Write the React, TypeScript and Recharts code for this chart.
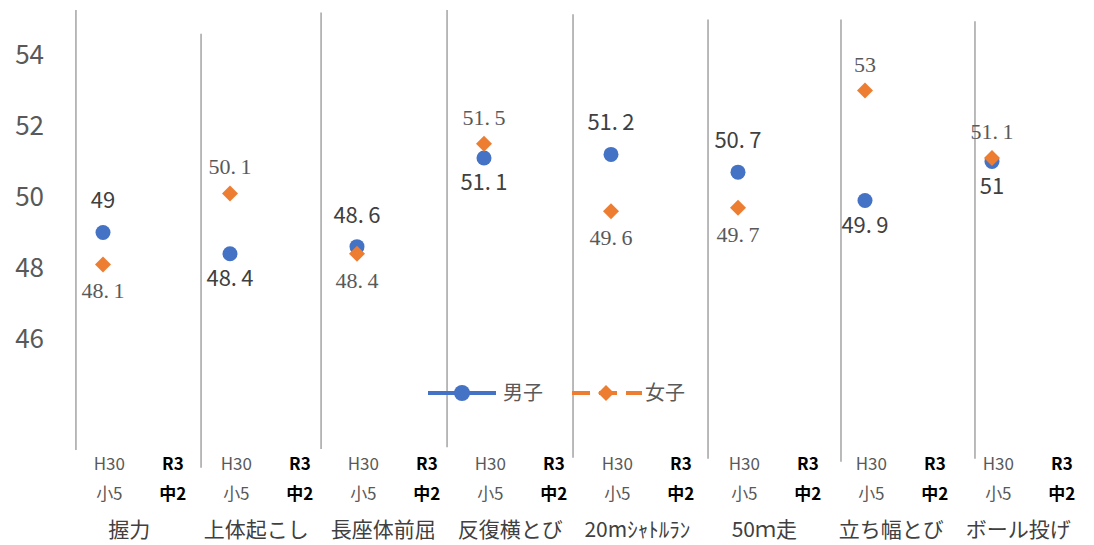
import { ScatterChart, Scatter, XAxis, YAxis, ReferenceLine, Legend } from 'recharts'

const categories = ['握力', '上体起こし', '長座体前屈', '反復横とび', '20mｼｬﾄﾙﾗﾝ', '50ｍ走', '立ち幅とび', 'ボール投げ']
const boys = [49, 48.4, 48.6, 51.1, 51.2, 50.7, 49.9, 51]
const girls = [48.1, 50.1, 48.4, 51.5, 49.6, 49.7, 53, 51.1]
const seriesNames = ['男子', '女子']
const periodLabels = [['H30', '小5'], ['R3', '中2']]
const yTicks = [46, 48, 50, 52, 54]

// which side of the marker each value label sits on
const boysLabelSide = ['top', 'bottom', 'top', 'bottom', 'top', 'top', 'bottom', 'bottom']
const girlsLabelSide = ['bottom', 'top', 'bottom', 'top', 'bottom', 'bottom', 'top', 'top']

const BLUE = '#4472C4'
const ORANGE = '#ED7D31'
const GRAY = '#595959'
const JP = '"Noto Sans CJK JP", "Noto Sans", sans-serif'
const SERIF = '"Liberation Serif", "DejaVu Serif", "Noto Sans CJK JP", serif'

const fmt = (v: number) => String(v).replace('.', '.\u2009')

const boysData = boys.map((v, i) => ({ x: i, y: v, side: boysLabelSide[i] }))
const girlsData = girls.map((v, i) => ({ x: i, y: v, side: girlsLabelSide[i] }))
const xTicks = categories.flatMap((_, i) => [i + 0.05, i + 0.55])
// separators between groups, hand drawn in the original: x offset from the group and top / bottom in value units
const sepOffsets = [-0.213, -0.228, -0.283, -0.291, -0.299, -0.236, -0.189, -0.134]
const sepTops = [55.27, 54.6, 55.2, 55.27, 55.15, 55.0, 55.0, 54.95]
const sepBottoms = [42.87, 42.37, 42.9, 42.95, 42.65, 42.62, 42.54, 42.62]

const BoyDot = (p: any) => {
    const { cx, cy, payload } = p
    const ty = payload.side === 'top' ? cy - 24 : cy + 32
    return (
        <g>
            <circle cx={cx} cy={cy} r={7.5} fill={BLUE} />
            <text x={cx} y={ty} textAnchor="middle" fontSize={22} fill="#404040" fontFamily={JP}>
                {fmt(payload.y)}
            </text>
        </g>
    )
}

const GirlDiamond = (p: any) => {
    const { cx, cy, payload } = p
    const ty = payload.side === 'top' ? cy - 19 : cy + 34
    const r = 8
    return (
        <g>
            <polygon points={`${cx},${cy - r} ${cx + r},${cy} ${cx},${cy + r} ${cx - r},${cy}`} fill={ORANGE} />
            <text x={cx} y={ty} textAnchor="middle" fontSize={22} fill={GRAY} fontFamily={SERIF}>
                {fmt(payload.y)}
            </text>
        </g>
    )
}

const XTick = (p: any) => {
    const { x, y, index } = p
    const period = periodLabels[index % 2]
    const bold = index % 2 === 1
    const cat = Math.floor(index / 2)
    return (
        <g>
            <text x={x} y={y + 12} textAnchor="middle" fontSize={17} fontFamily={JP}
                fill={bold ? '#000' : GRAY} fontWeight={bold ? 700 : 400}>{period[0]}</text>
            <text x={x} y={y + 42} textAnchor="middle" fontSize={17} fontFamily={JP}
                fill={bold ? '#000' : GRAY} fontWeight={bold ? 700 : 400}>{period[1]}</text>
            {!bold && (
                <text x={x + 20} y={y + 79} textAnchor="middle" fontSize={21} fontFamily={JP} fill="#404040">
                    {categories[cat]}
                </text>
            )}
        </g>
    )
}

const LegendContent = () => (
    <svg width={280} height={30}>
        <line x1={0} y1={15} x2={68} y2={15} stroke={BLUE} strokeWidth={4} />
        <circle cx={34} cy={15} r={8} fill={BLUE} />
        <text x={75} y={22} fontSize={20} fill={GRAY} fontFamily={JP}>{seriesNames[0]}</text>
        <line x1={144} y1={15} x2={214} y2={15} stroke={ORANGE} strokeWidth={4} strokeDasharray="18 9" />
        <polygon points="178,7 186,15 178,23 170,15" fill={ORANGE} />
        <text x={217} y={22} fontSize={20} fill={GRAY} fontFamily={JP}>{seriesNames[1]}</text>
    </svg>
)

export default function App() {
    return (
        <div style={{ position: 'absolute', left: 0, top: 0, background: '#fff' }}>
            <ScatterChart width={1094} height={545} margin={{ top: 10, right: 4, left: 0, bottom: 0 }}>
                <XAxis
                    type="number"
                    dataKey="x"
                    domain={[-0.3386, 7.7717]}
                    ticks={xTicks}
                    tick={<XTick />}
                    axisLine={false}
                    tickLine={false}
                    height={95}
                    interval={0}
                />
                <YAxis
                    type="number"
                    dataKey="y"
                    domain={[42.87, 55.27]}
                    ticks={yTicks}
                    axisLine={false}
                    tickLine={false}
                    width={60}
                    tickMargin={10}
                    tick={{ fontSize: 26, fill: GRAY, fontFamily: JP }}
                />
                {categories.map((_, i) => (
                    <ReferenceLine
                        key={i}
                        segment={[{ x: i + sepOffsets[i], y: sepTops[i] }, { x: i + sepOffsets[i], y: sepBottoms[i] }]}
                        stroke="#8c8c8c"
                        strokeWidth={1.2}
                        ifOverflow="visible"
                    />
                ))}
                <Legend
                    layout="horizontal"
                    verticalAlign="middle"
                    align="center"
                    content={<LegendContent />}
                    wrapperStyle={{ position: 'absolute', left: 428, top: 378, width: 280 }}
                />
                <Scatter name={seriesNames[0]} data={boysData} shape={BoyDot} isAnimationActive={false} />
                <Scatter name={seriesNames[1]} data={girlsData} shape={GirlDiamond} isAnimationActive={false} />
            </ScatterChart>
        </div>
    )
}
